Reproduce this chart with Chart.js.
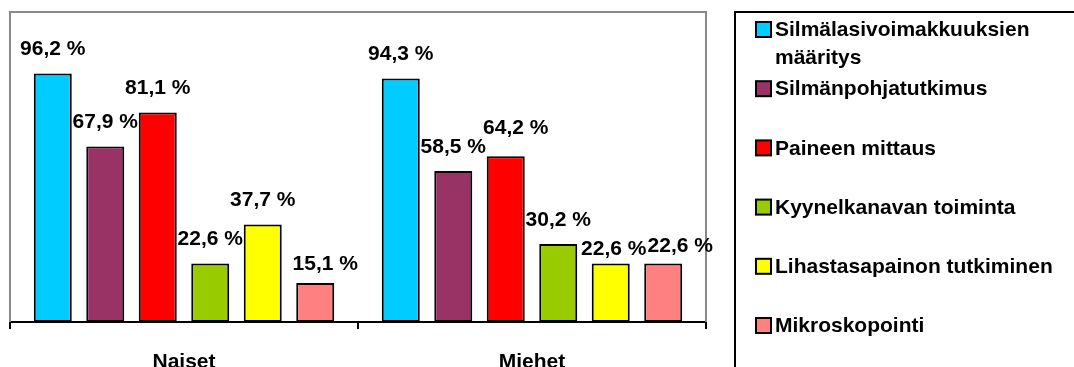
<!DOCTYPE html>
<html>
<head>
<meta charset="utf-8">
<script src="https://cdn.jsdelivr.net/npm/chart.js@4/dist/chart.umd.min.js"></script>
<style>
  html, body { margin: 0; padding: 0; background: #fff; }
  #wrap { width: 1074px; height: 367px; position: relative; }
</style>
</head>
<body>
<div id="wrap"><canvas id="c" width="1074" height="367"></canvas></div>
<script>
// Groups on the category axis
const groups = ['Naiset', 'Miehet'];

// Examination types (one bar series each)
const seriesNames = [
  'Silmälasivoimakkuuksien määritys',
  'Silmänpohjatutkimus',
  'Paineen mittaus',
  'Kyynelkanavan toiminta',
  'Lihastasapainon tutkiminen',
  'Mikroskopointi'
];

// Share of respondents (%), per group: [Naiset, Miehet]
const silmalasi   = [96.2, 94.3];
const silmanpohja = [67.9, 58.5];
const paine       = [81.1, 64.2];
const kyynel      = [22.6, 30.2];
const lihas       = [37.7, 22.6];
const mikro       = [15.1, 22.6];

const seriesValues = [silmalasi, silmanpohja, paine, kyynel, lihas, mikro];
const seriesColors = ['#00CCFF', '#993366', '#FF0000', '#99CC00', '#FFFF00', '#FF8080'];

// Small label nudges [series][group] -> [dx, dy] so overlapping labels stay readable
const labelNudge = {
  '5-0': [10, 5],
  '2-1': [10, -4],
  '4-1': [3, 10],
  '5-1': [17, 7]
};

const FONT = '"Liberation Sans", Arial, sans-serif';

const fmt = v => v.toFixed(1).replace('.', ',') + ' %';

// Gray frame around the plot area (top, left, right)
const frame = {
  id: 'frame',
  beforeDatasetsDraw(chart) {
    const { ctx, chartArea: a } = chart;
    ctx.save();
    ctx.strokeStyle = '#8a8a8a';
    ctx.lineWidth = 2;
    ctx.beginPath();
    ctx.moveTo(a.left, a.bottom);
    ctx.lineTo(a.left, a.top);
    ctx.lineTo(a.right, a.top);
    ctx.lineTo(a.right, a.bottom);
    ctx.stroke();
    ctx.restore();
  }
};

// Value labels above each bar
const valueLabels = {
  id: 'valueLabels',
  afterDatasetsDraw(chart) {
    const { ctx } = chart;
    ctx.save();
    ctx.font = 'bold 21px ' + FONT;
    ctx.fillStyle = '#000';
    ctx.textAlign = 'center';
    ctx.textBaseline = 'middle';
    chart.data.datasets.forEach((ds, si) => {
      const meta = chart.getDatasetMeta(si);
      meta.data.forEach((bar, gi) => {
        const n = labelNudge[si + '-' + gi] || [0, 0];
        ctx.fillText(fmt(ds.data[gi]), bar.x + n[0], bar.y - 24 + n[1]);
      });
    });
    ctx.restore();
  }
};

// Boxed legend on the right with wrapped item text
const boxLegend = {
  id: 'boxLegend',
  afterDraw(chart) {
    const { ctx } = chart;
    const boxLeft = 735, boxTop = 12;
    const rowTop = 29.5, rowStep = 59.2, lineH = 28;
    const sqX = 756, sqSize = 15, textX = 775, maxW = 292;
    ctx.save();
    ctx.strokeStyle = '#000';
    ctx.lineWidth = 2;
    ctx.strokeRect(boxLeft, boxTop, 600, 600);
    ctx.font = 'bold 21px ' + FONT;
    ctx.textBaseline = 'middle';
    ctx.textAlign = 'left';
    chart.data.datasets.forEach((ds, i) => {
      const cy = rowTop + i * rowStep;
      ctx.fillStyle = ds.backgroundColor;
      ctx.fillRect(sqX, cy - sqSize / 2, sqSize, sqSize);
      ctx.lineWidth = 2;
      ctx.strokeStyle = '#000';
      ctx.strokeRect(sqX, cy - sqSize / 2, sqSize, sqSize);
      // word wrap
      const words = ds.label.split(' ');
      const lines = [];
      let cur = '';
      words.forEach(w => {
        const t = cur ? cur + ' ' + w : w;
        if (ctx.measureText(t).width > maxW && cur) { lines.push(cur); cur = w; }
        else cur = t;
      });
      lines.push(cur);
      ctx.fillStyle = '#000';
      lines.forEach((ln, k) => ctx.fillText(ln, textX, cy + k * lineH + 1));
    });
    ctx.restore();
  }
};

new Chart(document.getElementById('c'), {
  type: 'bar',
  data: {
    labels: groups,
    datasets: seriesNames.map((name, i) => ({
      label: name,
      data: seriesValues[i],
      backgroundColor: seriesColors[i],
      borderColor: '#000',
      borderWidth: 2,
      borderSkipped: false,
      categoryPercentage: 0.905,
      barPercentage: 0.724
    }))
  },
  options: {
    responsive: false,
    animation: false,
    devicePixelRatio: 1,
    layout: { padding: { left: 10, right: 368, top: 12, bottom: 0 } },
    plugins: {
      legend: { display: false },
      tooltip: { enabled: false }
    },
    scales: {
      x: {
        offset: true,
        grid: {
          display: true,
          drawOnChartArea: false,
          drawTicks: true,
          tickLength: 7,
          color: '#000',
          lineWidth: 2
        },
        border: { display: true, color: '#000', width: 2 },
        ticks: {
          color: '#000',
          padding: 21,
          font: { family: FONT, size: 21, weight: 'bold' }
        },
        afterFit(scale) { scale.height = 45; }
      },
      y: {
        display: false,
        min: 0,
        max: 120
      }
    }
  },
  plugins: [frame, valueLabels, boxLegend]
});
</script>
</body>
</html>
